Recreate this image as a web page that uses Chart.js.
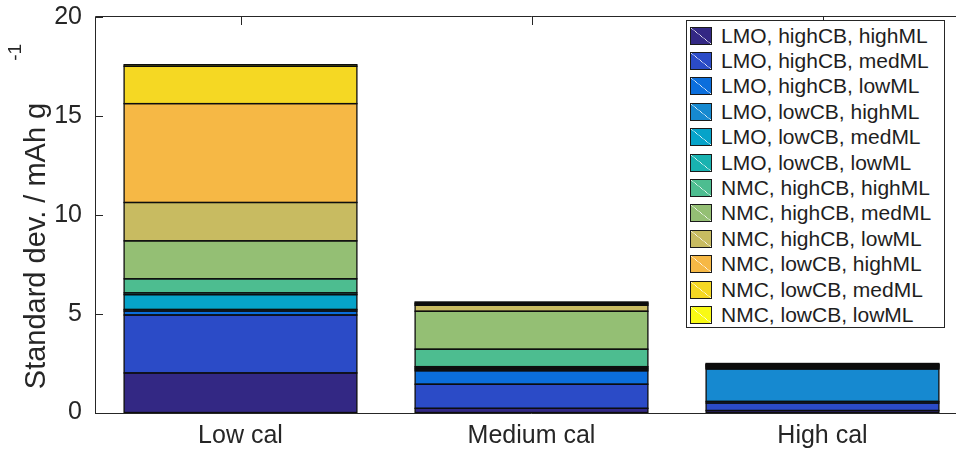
<!DOCTYPE html>
<html>
<head>
<meta charset="utf-8">
<script src="https://cdn.jsdelivr.net/npm/chart.js@4.4.1/dist/chart.umd.min.js"></script>
<style>
html,body{margin:0;padding:0;background:#fff;overflow:hidden;width:956px;height:451px;}
#wrap{position:relative;width:980px;height:451px;}
#c{position:absolute;left:0;top:0;}
#legend{position:absolute;left:686px;top:20px;width:259px;height:308px;border:1px solid #262626;background:#fff;box-sizing:border-box;padding-top:2px;
  font-family:"Liberation Sans",Arial,Helvetica,sans-serif;font-size:21px;color:#1e1e1e;}
.row{display:flex;align-items:center;height:25.4px;white-space:nowrap;}
.sw{width:22px;height:18px;border:1.5px solid #1a1a1a;margin-left:3px;margin-right:9px;box-sizing:border-box;flex:none;}
</style>
</head>
<body>
<div id="wrap">
<canvas id="c" width="980" height="451"></canvas>
<div id="legend"></div>
</div>
<script>
// ---- data ----
const categories = ['Low cal', 'Medium cal', 'High cal'];
const seriesNames = [
  'LMO, highCB, highML', 'LMO, highCB, medML', 'LMO, highCB, lowML',
  'LMO, lowCB, highML', 'LMO, lowCB, medML', 'LMO, lowCB, lowML',
  'NMC, highCB, highML', 'NMC, highCB, medML', 'NMC, highCB, lowML',
  'NMC, lowCB, highML', 'NMC, lowCB, medML', 'NMC, lowCB, lowML'
];
const lmoHighCBHighML = [2.00, 0.21, 0.10];
const lmoHighCBMedML  = [2.93, 1.22, 0.38];
const lmoHighCBLowML  = [0.20, 0.68, 0.08];
const lmoLowCBHighML  = [0.08, 0.08, 1.64];
const lmoLowCBMedML   = [0.75, 0.06, 0.04];
const lmoLowCBLowML   = [0.09, 0.07, 0.04];
const nmcHighCBHighML = [0.71, 0.88, 0.04];
const nmcHighCBMedML  = [1.92, 1.92, 0.03];
const nmcHighCBLowML  = [1.94, 0.30, 0.03];
const nmcLowCBHighML  = [5.00, 0.06, 0.03];
const nmcLowCBMedML   = [1.89, 0.05, 0.03];
const nmcLowCBLowML   = [0.08, 0.06, 0.04];
const yTicks = [0, 5, 10, 15, 20];

const seriesValues = [
  lmoHighCBHighML, lmoHighCBMedML, lmoHighCBLowML,
  lmoLowCBHighML, lmoLowCBMedML, lmoLowCBLowML,
  nmcHighCBHighML, nmcHighCBMedML, nmcHighCBLowML,
  nmcLowCBHighML, nmcLowCBMedML, nmcLowCBLowML
];
const seriesColors = [
  '#332884', '#2b4bc7', '#0b6edc', '#1689d0', '#06a3c9', '#19b2b0',
  '#4dbd90', '#94bf74', '#c8bb61', '#f6b845', '#f5d823', '#f9fa14'
];

const FONT = '"Liberation Sans", Arial, Helvetica, sans-serif';
const TXT = '#262626';

// ---- legend (HTML, real text) ----
const leg = document.getElementById('legend');
seriesNames.forEach((n, i) => {
  const r = document.createElement('div');
  r.className = 'row';
  const s = document.createElement('span');
  s.className = 'sw';
  const c = seriesColors[i];
  s.style.background = `linear-gradient(to top right, ${c} 48%, rgba(255,255,255,0.3) 50%, ${c} 52%)`;
  const t = document.createElement('span');
  t.textContent = n;
  r.appendChild(s); r.appendChild(t);
  leg.appendChild(r);
});

// ---- plugins ----
const framePlugin = {
  id: 'frame',
  beforeDatasetsDraw(chart) {
    const {ctx, chartArea: a, scales: {x, y}} = chart;
    ctx.save();
    ctx.strokeStyle = TXT; ctx.lineWidth = 1;
    ctx.beginPath();
    yTicks.forEach(v => {
      const py = Math.round(y.getPixelForValue(v)) + 0.5;
      ctx.moveTo(a.left, py); ctx.lineTo(a.left + 8, py);
    });
    categories.forEach((c, i) => {
      const px = Math.round(x.getPixelForValue(i)) + 0.5;
      ctx.moveTo(px, a.top); ctx.lineTo(px, a.top + 8);
      ctx.moveTo(px, a.bottom); ctx.lineTo(px, a.bottom - 8);
    });
    ctx.stroke();
    ctx.restore();
  },
  afterDatasetsDraw(chart) {
    const {ctx, chartArea: a} = chart;
    ctx.save();
    // bar edges (black outlines on every stacked segment)
    ctx.strokeStyle = '#0d0d0d';
    ctx.lineWidth = 1.3;
    chart.data.datasets.forEach((ds, i) => {
      chart.getDatasetMeta(i).data.forEach(el => {
        const p = el.getProps(['x', 'y', 'base', 'width'], true);
        const top = Math.min(p.y, p.base), h = Math.abs(p.base - p.y);
        ctx.strokeRect(p.x - p.width / 2, top, p.width, h);
      });
    });
    // axes frame
    ctx.strokeStyle = TXT; ctx.lineWidth = 1;
    ctx.beginPath();
    const l = Math.round(a.left) + 0.5, t = Math.round(a.top) - 0.5, b = Math.round(a.bottom) + 0.5;
    ctx.moveTo(l, t); ctx.lineTo(l, b);
    ctx.moveTo(l, b); ctx.lineTo(a.right, b);
    ctx.moveTo(l, t); ctx.lineTo(a.right, t);
    ctx.stroke();
    ctx.restore();
  }
};

const yTitlePlugin = {
  id: 'ytitle',
  afterDraw(chart) {
    const {ctx} = chart;
    ctx.save();
    ctx.fillStyle = TXT;
    const cx = 37, cy = 246;
    ctx.translate(cx, cy);
    ctx.rotate(-Math.PI / 2);
    ctx.font = '29px ' + FONT;
    ctx.textAlign = 'center';
    ctx.textBaseline = 'middle';
    const main = 'Standard dev. / mAh g';
    ctx.fillText(main, 0, 0);
    const w = ctx.measureText(main).width;
    ctx.font = '19px ' + FONT;
    ctx.textAlign = 'left';
    ctx.fillText('-1', w / 2 + 42, -21);
    ctx.restore();
  }
};

new Chart(document.getElementById('c'), {
  type: 'bar',
  data: {
    labels: categories,
    datasets: seriesNames.map((n, i) => ({
      label: n,
      data: seriesValues[i],
      backgroundColor: seriesColors[i],
      borderWidth: 0,
      categoryPercentage: 0.8,
      barPercentage: 1.0
    }))
  },
  options: {
    responsive: false,
    animation: false,
    devicePixelRatio: 1,
    layout: {padding: {top: 17, right: 12, left: 0, bottom: 0}},
    plugins: {legend: {display: false}, tooltip: {enabled: false}, title: {display: false}},
    scales: {
      x: {
        stacked: true,
        grid: {display: false, drawTicks: false},
        border: {display: false},
        ticks: {font: {family: FONT, size: 25}, color: TXT, padding: 9},
        afterFit: s => { s.height = 38.5; s.paddingLeft = 0; s.paddingRight = 0; }
      },
      y: {
        stacked: true,
        min: 0, max: 20,
        grid: {display: false, drawTicks: false},
        border: {display: false},
        ticks: {stepSize: 5, font: {family: FONT, size: 25}, color: TXT, padding: 13},
        afterFit: s => { s.width = 95; s.paddingTop = 0; s.paddingBottom = 0; }
      }
    }
  },
  plugins: [framePlugin, yTitlePlugin]
});
</script>
</body>
</html>
